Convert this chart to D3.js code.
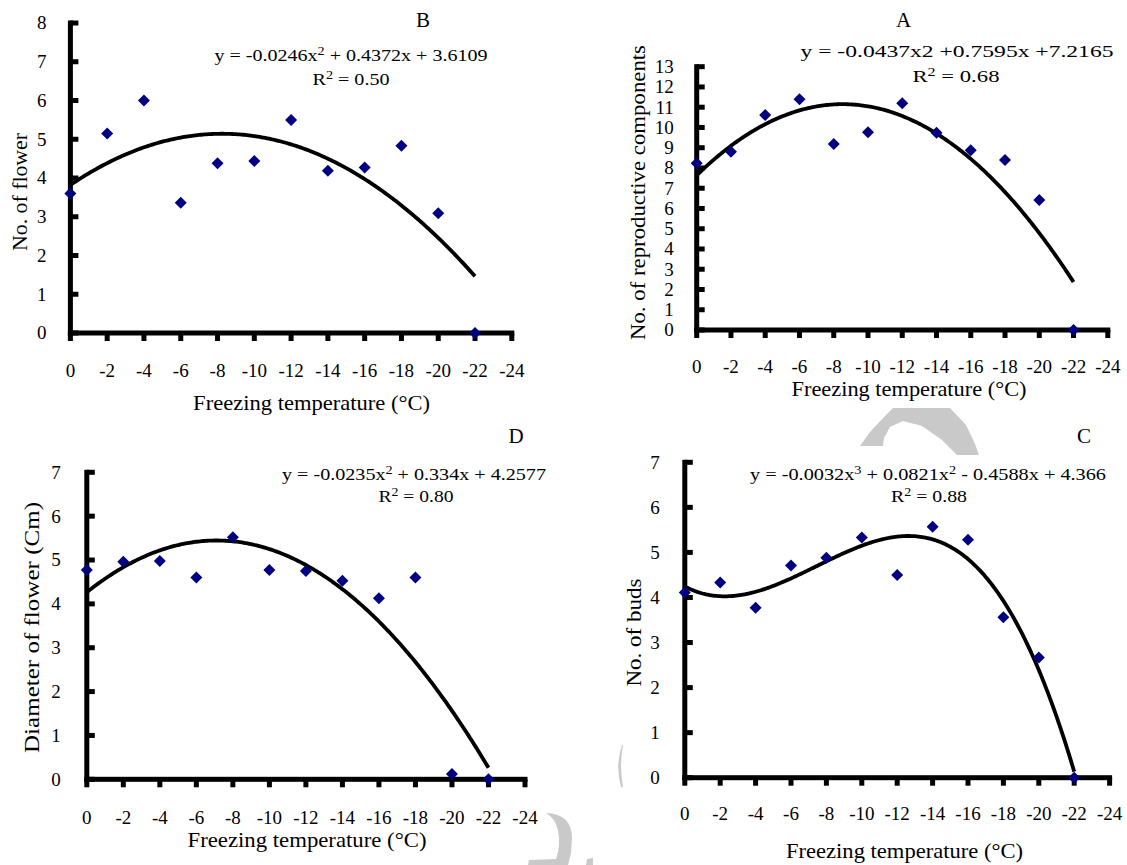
<!DOCTYPE html>
<html>
<head>
<meta charset="utf-8">
<script src="https://cdn.jsdelivr.net/npm/d3@7"></script>
<style>
  html, body { margin: 0; padding: 0; background: #fff; }
  svg { display: block; }
</style>
</head>
<body>
<svg id="chart" width="1127" height="865"></svg>
<script>
// Freezing temperatures (°C) at which the plants were tested
const temps = [0, -2, -4, -6, -8, -10, -12, -14, -16, -18, -20, -22];
const xTicks = [0, -2, -4, -6, -8, -10, -12, -14, -16, -18, -20, -22, -24];

// Measured responses at each temperature
const flowerCount      = [3.6, 5.15, 6.0, 3.36, 4.38, 4.44, 5.5, 4.19, 4.27, 4.83, 3.09, 0];
const reproComponents  = [8.23, 8.8, 10.61, 11.39, 9.18, 9.76, 11.19, 9.74, 8.88, 8.39, 6.42, 0];
const flowerDiameter   = [4.77, 4.96, 4.98, 4.6, 5.52, 4.77, 4.75, 4.53, 4.13, 4.6, 0.12, 0];
const budCount         = [4.11, 4.33, 3.77, 4.71, 4.88, 5.33, 4.5, 5.57, 5.28, 3.56, 2.67, 0];

// Y tick values per panel
const ticksFlower  = [0, 1, 2, 3, 4, 5, 6, 7, 8];
const ticksRepro   = [0, 1, 2, 3, 4, 5, 6, 7, 8, 9, 10, 11, 12, 13];
const ticksSeven   = [0, 1, 2, 3, 4, 5, 6, 7];

// Panel texts
const panelB = { letter: "B", yTitle: "No. of flower",
  eq: [["y = -0.0246x"], ["2", true], [" + 0.4372x + 3.6109"]], r2: "0.50", degree: 2 };
const panelA = { letter: "A", yTitle: "No. of reproductive components",
  eq: [["y = -0.0437x2 +0.7595x +7.2165"]], r2: "0.68", degree: 2 };
const panelD = { letter: "D", yTitle: "Diameter of flower  (Cm)",
  eq: [["y = -0.0235x"], ["2", true], [" + 0.334x + 4.2577"]], r2: "0.80", degree: 2 };
const panelC = { letter: "C", yTitle: "No. of buds",
  eq: [["y = -0.0032x"], ["3", true], [" + 0.0821x"], ["2", true], [" - 0.4588x + 4.366"]], r2: "0.88", degree: 3 };
const xTitle = "Freezing temperature (°C)";

// Layout of the four panels (pixel geometry)
const panels = [
  { text: panelB, values: flowerCount, yTicks: ticksFlower, yMax: 8,
    left: 70.4, right: 511.8, bottom: 333, top: 23,
    letterPos: [423, 27], eqPos: [351, 61, 273], r2Pos: [351, 85, 77],
    tickLabelDy: 44, yLabelGap: 24, xTitlePos: [311.6, 410, 237], yTitlePos: [27, 192, 118] },
  { text: panelA, values: reproComponents, yTicks: ticksRepro, yMax: 13,
    left: 696.7, right: 1107.8, bottom: 330, top: 66.7,
    letterPos: [903.5, 27], eqPos: [957, 57, 313], r2Pos: [956, 82, 87],
    tickLabelDy: 43, yLabelGap: 23, xTitlePos: [909, 396, 235], yTitlePos: [645, 192.5, 295] },
  { text: panelD, values: flowerDiameter, yTicks: ticksSeven, yMax: 7,
    left: 86.8, right: 525, bottom: 779.3, top: 472.3,
    letterPos: [516, 443], eqPos: [414, 480, 264], r2Pos: [416, 502, 75],
    tickLabelDy: 45, yLabelGap: 26, xTitlePos: [307, 847, 239], yTitlePos: [39, 627.5, 251] },
  { text: panelC, values: budCount, yTicks: ticksSeven, yMax: 7,
    left: 684.8, right: 1109.6, bottom: 777.7, top: 462.3,
    letterPos: [1084, 443], eqPos: [928, 480, 356], r2Pos: [929, 502, 76],
    tickLabelDy: 42, yLabelGap: 25, xTitlePos: [904.5, 858, 237], yTitlePos: [641, 632.5, 108] }
];

const FONT = "'Liberation Serif', 'Times New Roman', Times, serif";
const svg = d3.select("#chart").attr("font-family", FONT);

// Faint background watermark shapes
const wm = svg.append("g").attr("fill", "#c9c9c9").attr("stroke", "none");
wm.append("path").attr("d",
  "M860,446 L870,432 L884,417 L893,408 L950,408 L966,425 L975,444 L979,455 L957,455 " +
  "L942,440 L922,426 L903,421 L890,427 L884,438 L883,446 Z");
wm.append("path").attr("d",
  "M546,813 Q572,814 572,838 L571,853 L568,865 L528,865 L529,860 L556,859 Q561,845 558,830 Q555,818 546,813 Z");
wm.append("path").attr("d", "M587,859 L593,858 L593,865 L586,865 Z");
wm.append("path").attr("d", "M622,745 Q615,765 621,787 L623,787 Q619,765 623,745 Z");

// Least-squares polynomial trendline fitted to the observations
function polyFit(xs, ys, degree) {
  const n = degree + 1;
  const A = Array.from({ length: n }, () => new Array(n + 1).fill(0));
  xs.forEach((x, k) => {
    for (let i = 0; i < n; i++) {
      for (let j = 0; j < n; j++) A[i][j] += Math.pow(x, i + j);
      A[i][n] += ys[k] * Math.pow(x, i);
    }
  });
  for (let c = 0; c < n; c++) {
    let p = c;
    for (let r = c + 1; r < n; r++) if (Math.abs(A[r][c]) > Math.abs(A[p][c])) p = r;
    [A[c], A[p]] = [A[p], A[c]];
    for (let r = 0; r < n; r++) {
      if (r === c) continue;
      const f = A[r][c] / A[c][c];
      for (let k = c; k <= n; k++) A[r][k] -= f * A[c][k];
    }
  }
  const coef = A.map((row, i) => row[n] / row[i]);
  return x => coef.reduce((s, c, i) => s + c * Math.pow(x, i), 0);
}

const diamond = "M0,-6 L6,0 L0,6 L-6,0 Z";
const AXIS_W = 5, TICK_LEN = 8;

panels.forEach(p => {
  const g = svg.append("g");
  const x = d3.scaleLinear().domain([0, -24]).range([p.left, p.right]);
  const y = d3.scaleLinear().domain([0, p.yMax]).range([p.bottom, p.top]);

  // Axis bars and ticks as solid strips: x ticks point down, y ticks point into the plot
  const ax = g.append("g").attr("fill", "#000");
  const h = AXIS_W / 2;
  ax.append("rect").attr("x", x(0) - h).attr("y", y(0) - h)
    .attr("width", x(-24) - x(0) + 2 * h).attr("height", AXIS_W);
  ax.append("rect").attr("x", x(0) - h).attr("y", y(p.yMax) - h)
    .attr("width", AXIS_W).attr("height", y(0) - y(p.yMax) + 2 * h);
  ax.selectAll(".xt").data(xTicks).join("rect").attr("class", "xt")
    .attr("x", d => x(d) - h).attr("y", y(0))
    .attr("width", AXIS_W).attr("height", TICK_LEN);
  ax.selectAll(".yt").data(p.yTicks).join("rect").attr("class", "yt")
    .attr("x", x(0)).attr("y", d => y(d) - h)
    .attr("width", TICK_LEN).attr("height", AXIS_W);

  // Tick labels
  g.append("g").selectAll("text").data(xTicks).join("text")
    .attr("x", d => x(d)).attr("y", p.bottom + p.tickLabelDy)
    .attr("text-anchor", "middle").attr("font-size", 19)
    .text(d => d === 0 ? "0" : String(d));
  g.append("g").selectAll("text").data(p.yTicks).join("text")
    .attr("x", p.left - p.yLabelGap).attr("y", d => y(d)).attr("dy", "0.34em")
    .attr("text-anchor", "end").attr("font-size", 19)
    .text(d => d);

  // Axis titles
  g.append("text")
    .attr("x", p.xTitlePos[0] - p.xTitlePos[2] / 2).attr("y", p.xTitlePos[1])
    .attr("font-size", 21)
    .attr("textLength", p.xTitlePos[2]).attr("lengthAdjust", "spacingAndGlyphs")
    .text(xTitle);
  g.append("text")
    .attr("transform", `translate(${p.yTitlePos[0]},${p.yTitlePos[1] + p.yTitlePos[2] / 2}) rotate(-90)`)
    .attr("font-size", 21)
    .attr("textLength", p.yTitlePos[2]).attr("lengthAdjust", "spacingAndGlyphs")
    .text(p.text.yTitle);

  // Trendline
  const fit = polyFit(temps, p.values, p.text.degree);
  const curveX = d3.range(0, -22.001, -0.1);
  g.append("path")
    .attr("fill", "none").attr("stroke", "#000").attr("stroke-width", 3.8)
    .attr("d", d3.line().x(d => x(d)).y(d => y(fit(d)))(curveX));

  // Observed points
  g.append("g").selectAll("path").data(temps).join("path")
    .attr("transform", (d, i) => `translate(${x(d)},${y(p.values[i])})`)
    .attr("d", diamond).attr("fill", "#000080");

  // Panel letter
  g.append("text").attr("x", p.letterPos[0]).attr("y", p.letterPos[1])
    .attr("text-anchor", "middle").attr("font-size", 21).text(p.text.letter);

  // Trendline equation and R²
  const eq = g.append("text")
    .attr("x", p.eqPos[0] - p.eqPos[2] / 2).attr("y", p.eqPos[1])
    .attr("font-size", 17)
    .attr("textLength", p.eqPos[2]).attr("lengthAdjust", "spacingAndGlyphs");
  p.text.eq.forEach(([s, sup]) => {
    const t = eq.append("tspan").text(s);
    if (sup) t.attr("font-size", 12).attr("dy", -6);
    else if (eq.selectAll("tspan").size() > 1) t.attr("dy", 6);
  });
  const r2 = g.append("text")
    .attr("x", p.r2Pos[0] - p.r2Pos[2] / 2).attr("y", p.r2Pos[1])
    .attr("font-size", 17)
    .attr("textLength", p.r2Pos[2]).attr("lengthAdjust", "spacingAndGlyphs");
  r2.append("tspan").text("R");
  r2.append("tspan").attr("font-size", 12).attr("dy", -6).text("2");
  r2.append("tspan").attr("dy", 6).text(" = " + p.text.r2);
});
</script>
</body>
</html>
